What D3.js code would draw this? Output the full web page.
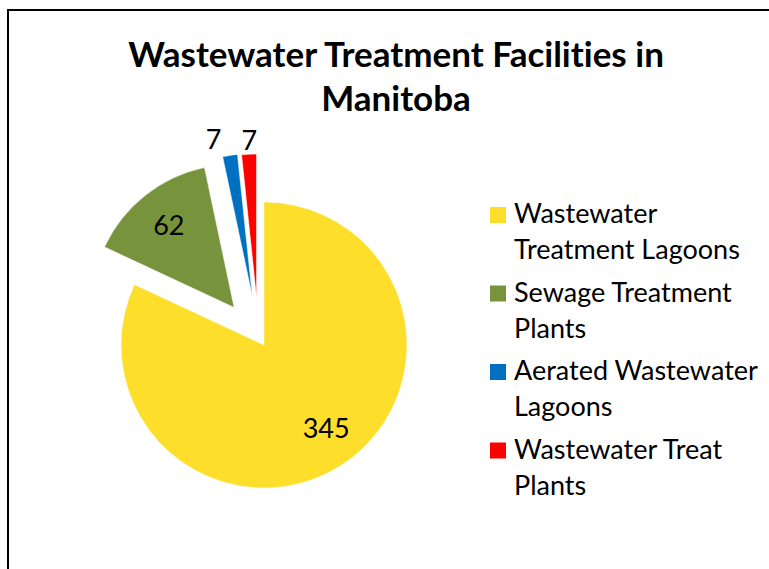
<!DOCTYPE html>
<html>
<head>
<meta charset="utf-8">
<script src="https://cdn.jsdelivr.net/npm/d3@7"></script>
<style>
  body { margin: 0; background: #fff; }
  svg { display: block; }
  text { font-variant-ligatures: none; font-feature-settings: "liga" 0, "dlig" 0; }
</style>
</head>
<body>
<div class="chart"></div>
<script>
var categories = ["Wastewater Treatment Lagoons", "Sewage Treatment Plants", "Aerated Wastewater Lagoons", "Wastewater Treat Plants"];
var legendLines = [["Wastewater", "Treatment Lagoons"], ["Sewage Treatment", "Plants"], ["Aerated Wastewater", "Lagoons"], ["Wastewater Treat", "Plants"]];
var values = [345, 62, 7, 7];
var colors = ["#FCDE2B", "#77933C", "#0070C0", "#FF0000"];
var explode = [0, 48, 49, 48];
var explodeDx = [0, 0, -4, -5];
var titleLines = ["Wastewater Treatment Facilities in", "Manitoba"];

var width = 769, height = 569;
var cx = 264, cy = 345, radius = 143;
var font = "Lato, 'Open Sans', sans-serif";

var svg = d3.select(".chart")
    .append("svg")
    .attr("width", width)
    .attr("height", height);

// frame
svg.append("rect")
    .attr("x", 8)
    .attr("y", 10)
    .attr("width", width + 20)
    .attr("height", height + 20)
    .attr("fill", "none")
    .attr("stroke", "#000")
    .attr("stroke-width", 2);

// title
svg.append("g").selectAll("text")
    .data(titleLines)
    .enter().append("text")
    .attr("x", 396)
    .attr("y", function(d, i){ return 67 + i * 44; })
    .attr("text-anchor", "middle")
    .style("font-family", font)
    .style("font-weight", "bold")
    .style("font-size", "35px")
    .text(function(d){ return d; });

var pie = d3.pie().sort(null).value(function(d){ return d; });
var arcs = pie(values);
var arc = d3.arc().innerRadius(0).outerRadius(radius);

function offset(d, i) {
  var a = (d.startAngle + d.endAngle) / 2;
  return [Math.sin(a) * explode[i] + explodeDx[i], -Math.cos(a) * explode[i]];
}

var g = svg.append("g")
    .attr("transform", "translate(" + cx + "," + cy + ")");

g.selectAll("path")
    .data(arcs)
    .enter().append("path")
    .attr("transform", function(d, i){ var o = offset(d, i); return "translate(" + o[0] + "," + o[1] + ")"; })
    .attr("fill", function(d, i){ return colors[i]; })
    .attr("stroke", "#fff")
    .attr("stroke-width", 0.5)
    .attr("d", arc);

// data labels: inside for big slices, outside for the small ones
var labelR = [99, 105, 159, 157];
var labelDx = [9, 0, -14, 1];
g.selectAll("text")
    .data(arcs)
    .enter().append("text")
    .attr("x", function(d, i){
      var a = (d.startAngle + d.endAngle) / 2;
      return offset(d, i)[0] + Math.sin(a) * labelR[i] + labelDx[i];
    })
    .attr("y", function(d, i){
      var a = (d.startAngle + d.endAngle) / 2;
      return offset(d, i)[1] - Math.cos(a) * labelR[i];
    })
    .attr("dy", "0.36em")
    .attr("text-anchor", "middle")
    .style("font-family", font)
    .style("font-size", "27px")
    .text(function(d){ return d.data; });

// legend
var legend = svg.append("g").selectAll("g")
    .data(legendLines)
    .enter().append("g")
    .attr("transform", function(d, i){ return "translate(490," + (223 + i * 78.5) + ")"; });

legend.append("rect")
    .attr("x", 0)
    .attr("y", -16)
    .attr("width", 16)
    .attr("height", 16)
    .attr("fill", function(d, i){ return colors[i]; });

legend.append("text")
    .attr("x", 24)
    .style("font-family", font)
    .style("font-size", "27px")
    .selectAll("tspan")
    .data(function(d){ return d; })
    .enter().append("tspan")
    .attr("x", 24)
    .attr("y", function(d, i){ return i * 36; })
    .text(function(d){ return d; });
</script>
</body>
</html>
